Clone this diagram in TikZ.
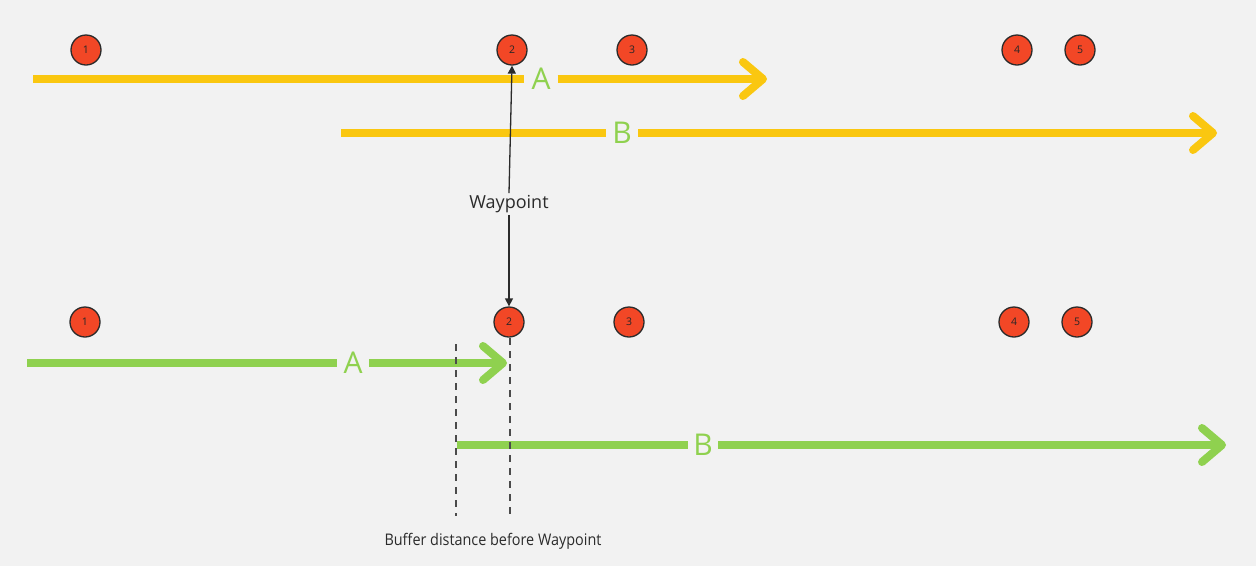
\documentclass[tikz,border=0pt]{standalone}
\usepackage{fontspec}
\setmainfont{Open Sans}
\newfontfamily\condfont[FakeStretch=0.9]{Open Sans}
\usetikzlibrary{arrows.meta}
\definecolor{bg}{HTML}{F2F2F2}
\definecolor{ylw}{HTML}{FAC710}
\definecolor{grn}{HTML}{8FD14F}
\definecolor{rd}{HTML}{F24726}
\definecolor{dk}{HTML}{2B2B2B}
\tikzset{
  num/.style={circle,draw=dk,line width=1.3pt,fill=rd,minimum size=30pt,inner sep=0pt,font=\fontsize{10.5}{10.5}\selectfont,text=black!85},
  lbl/.style={inner sep=0pt,text=grn,font=\fontsize{30}{30}\selectfont},
  yline/.style={draw=ylw,line width=8pt},
  gline/.style={draw=grn,line width=8pt},
  bigtip/.style={-{Straight Barb[length=20pt,width=34pt,round]}},
  conn/.style={draw=dk,line width=1.3pt,-{Triangle[length=8pt,width=8pt]}},
  dashline/.style={draw=dk!85,line width=1.5pt,dash pattern=on 7pt off 6pt}
}
\begin{document}
\begin{tikzpicture}[x=1pt,y=-1pt]
\fill[bg] (0,0) rectangle (1256,566);
\useasboundingbox (0,0) rectangle (1256,566);
% top circles
\node[num] (t1) at (86,50) {1};
\node[num] (t2) at (512,50) {2};
\node[num] (t3) at (632,50) {3};
\node[num] (t4) at (1017,50) {4};
\node[num] (t5) at (1080,50) {5};
% bottom circles
\node[num] (b1) at (85,322) {1};
\node[num] (b2) at (509,322) {2};
\node[num] (b3) at (629,322) {3};
\node[num] (b4) at (1014,322) {4};
\node[num] (b5) at (1077,322) {5};
% yellow A
\coordinate (ya0) at (33,79);
\node[lbl,minimum width=33pt] (yA) at (541,79) {A};
\coordinate (ya1) at (767,79);
\draw[yline] (ya0) -- (yA.west);
\draw[yline,bigtip] (yA.east) -- (ya1);
% yellow B
\coordinate (yb0) at (341,133);
\node[lbl,minimum width=32pt] (yB) at (622,133) {B};
\coordinate (yb1) at (1217,133);
\draw[yline] (yb0) -- (yB.west);
\draw[yline,bigtip] (yB.east) -- (yb1);
% green A
\coordinate (ga0) at (27,363);
\node[lbl,minimum width=32pt] (gA) at (353,363) {A};
\coordinate (ga1) at (507,363);
\draw[gline] (ga0) -- (gA.west);
\draw[gline,bigtip] (gA.east) -- (ga1);
% green B
\coordinate (gb0) at (457,445);
\node[lbl,minimum width=30pt] (gB) at (703,445) {B};
\coordinate (gb1) at (1226,445);
\draw[gline] (gb0) -- (gB.west);
\draw[gline,bigtip] (gB.east) -- (gb1);
% waypoint
\node[inner sep=2pt,font=\fontsize{18}{18}\selectfont,text=dk] (wp) at (509,204) {Waypoint};
\draw[conn] (wp.north) -- (t2.south);
\draw[conn] (wp.south) -- (b2.north);
% dashed buffer lines
\coordinate (d1a) at (456,344);
\coordinate (d1b) at (456,516);
\coordinate (d2a) at (510,338);
\coordinate (d2b) at (510,516);
\draw[dashline] (d1a) -- (d1b);
\draw[dashline] (d2a) -- (d2b);
\node[inner sep=0pt,font=\condfont\fontsize{16}{16}\selectfont,text=dk] (buf) at (493,541) {Buffer distance before Waypoint};
\end{tikzpicture}
\end{document}
